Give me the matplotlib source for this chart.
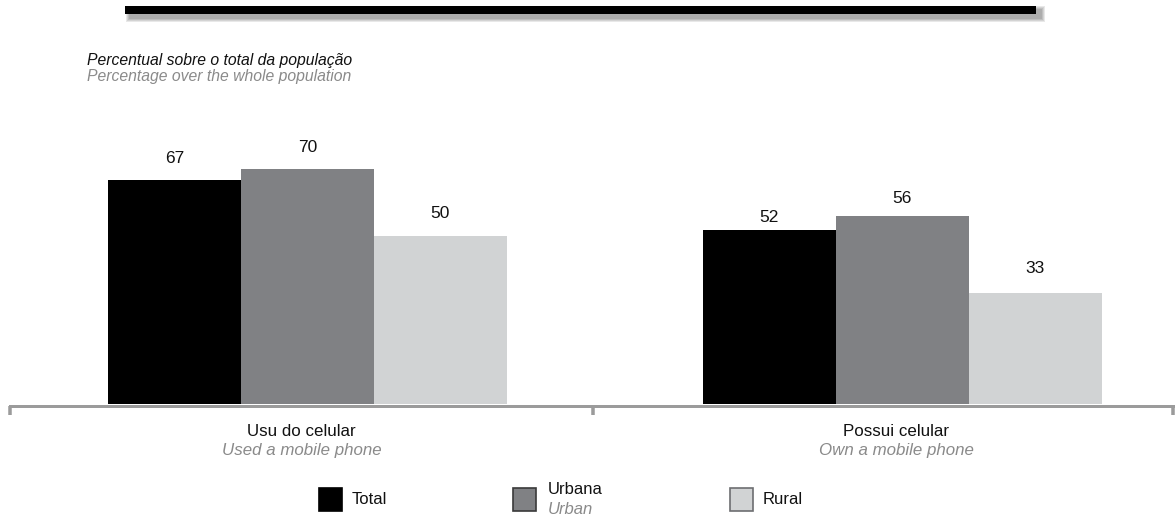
import matplotlib
matplotlib.use("Agg")
import matplotlib.pyplot as plt
from matplotlib.patches import Rectangle
from matplotlib import transforms
import numpy as np

# ---- data -------------------------------------------------------------
categories_pt = ["Usu do celular", "Possui celular"]
categories_en = ["Used a mobile phone", "Own a mobile phone"]

series_pt = ["Total", "Urbana", "Rural"]
series_en = [None, "Urban", None]

total = [67, 52]
urbana = [70, 56]
rural = [50, 33]

subtitle_pt = "Percentual sobre o total da população"
subtitle_en = "Percentage over the whole population"

# ---- style ------------------------------------------------------------
colors = ["#000000", "#808184", "#d1d3d4"]
edge_colors = ["#000000", "#3a3a3a", "#6d6e71"]
grey_text = "#8a8a8a"
axis_grey = "#9b9b9b"
label_gap_px = [[17, 8], [18, 13], [18, 20]]   # gap between bar top and value

W, H = 1175, 518
DPI = 100
PT = 72 / DPI  # points per pixel

plt.rcParams["font.family"] = ["Liberation Sans", "DejaVu Sans"]


def fx(px):
    return px / W


def fy(py):
    return 1 - py / H


fig = plt.figure(figsize=(W / DPI, H / DPI), dpi=DPI)
fig.patch.set_facecolor("white")

# ---- heading rule with a soft drop shadow ----------------------------
rx0, rx1, ry0, ry1 = 125, 1036, 6, 14
for k in range(4, 0, -1):
    fig.patches.append(Rectangle(
        (fx(rx0 + 5 - k), fy(ry1 + 4 + k)),
        (rx1 - rx0 + 2 * k) / W, (ry1 - ry0 + 2 * k) / H,
        transform=fig.transFigure, facecolor="#000000",
        alpha=0.09, linewidth=0, zorder=1))
fig.patches.append(Rectangle(
    (fx(rx0), fy(ry1)), (rx1 - rx0) / W, (ry1 - ry0) / H,
    transform=fig.transFigure, facecolor="#000000", linewidth=0, zorder=2))

fig.text(fx(87), fy(60), subtitle_pt, fontsize=11.3, style="italic",
         color="#111111", va="center", ha="left")
fig.text(fx(87), fy(77), subtitle_en, fontsize=11.3, style="italic",
         color=grey_text, va="center", ha="left")

# ---- bars -------------------------------------------------------------
ax = fig.add_axes([fx(10), fy(404), fx(1173) - fx(10), (404 - 100) / H])
ax.set_xlim(-0.5, 1.455)
ax.set_ylim(0, 304 / 3.35)

x = np.arange(len(categories_pt))
width = 133 / 595
values = [total, urbana, rural]
for i, (vals, col) in enumerate(zip(values, colors)):
    xs = x + (i - 1) * width
    ax.bar(xs, vals, width=width, color=col, linewidth=0, zorder=2)
    for xi, v, gap in zip(xs, vals, label_gap_px[i]):
        ax.annotate(f"{v}", (xi, v), xytext=(0, gap * PT),
                    textcoords="offset points", ha="center",
                    va="baseline", fontsize=12.5, color="#111111")

for s in ["top", "left", "right"]:
    ax.spines[s].set_visible(False)
ax.spines["bottom"].set_position(("outward", 1.5 * PT))
ax.spines["bottom"].set_color(axis_grey)
ax.spines["bottom"].set_linewidth(3 * PT)
ax.set_yticks([])
ax.set_xticks([-0.5, 0.48, 1.455])
ax.set_xticklabels([])
ax.tick_params(axis="x", length=8.5 * PT, width=3.5 * PT, color=axis_grey,
               direction="out")

tr = transforms.blended_transform_factory(ax.transData, fig.transFigure)
for xi, pt, en in zip(x, categories_pt, categories_en):
    ax.text(xi - 0.01, fy(432), pt, transform=tr, ha="center", va="center",
            fontsize=12.2, color="#111111")
    ax.text(xi - 0.01, fy(451), en, transform=tr, ha="center", va="center",
            fontsize=12.2, style="italic", color=grey_text)

# ---- legend -----------------------------------------------------------
legend_x = [319, 513, 730]
sq = 23
for lx, name, name_en, col, ec in zip(legend_x, series_pt, series_en,
                                       colors, edge_colors):
    fig.patches.append(Rectangle(
        (fx(lx), fy(488 + sq)), sq / W, sq / H, transform=fig.transFigure,
        facecolor=col, edgecolor=ec, linewidth=1.2))
    if name_en is None:
        fig.text(fx(lx + 33), fy(500), name, fontsize=12,
                 va="center", ha="left", color="#111111")
    else:
        fig.text(fx(lx + 35), fy(489), name, fontsize=12,
                 va="center", ha="left", color="#111111")
        fig.text(fx(lx + 35), fy(509), name_en, fontsize=12,
                 style="italic", va="center", ha="left", color=grey_text)

fig.savefig("out.png", dpi=DPI)
